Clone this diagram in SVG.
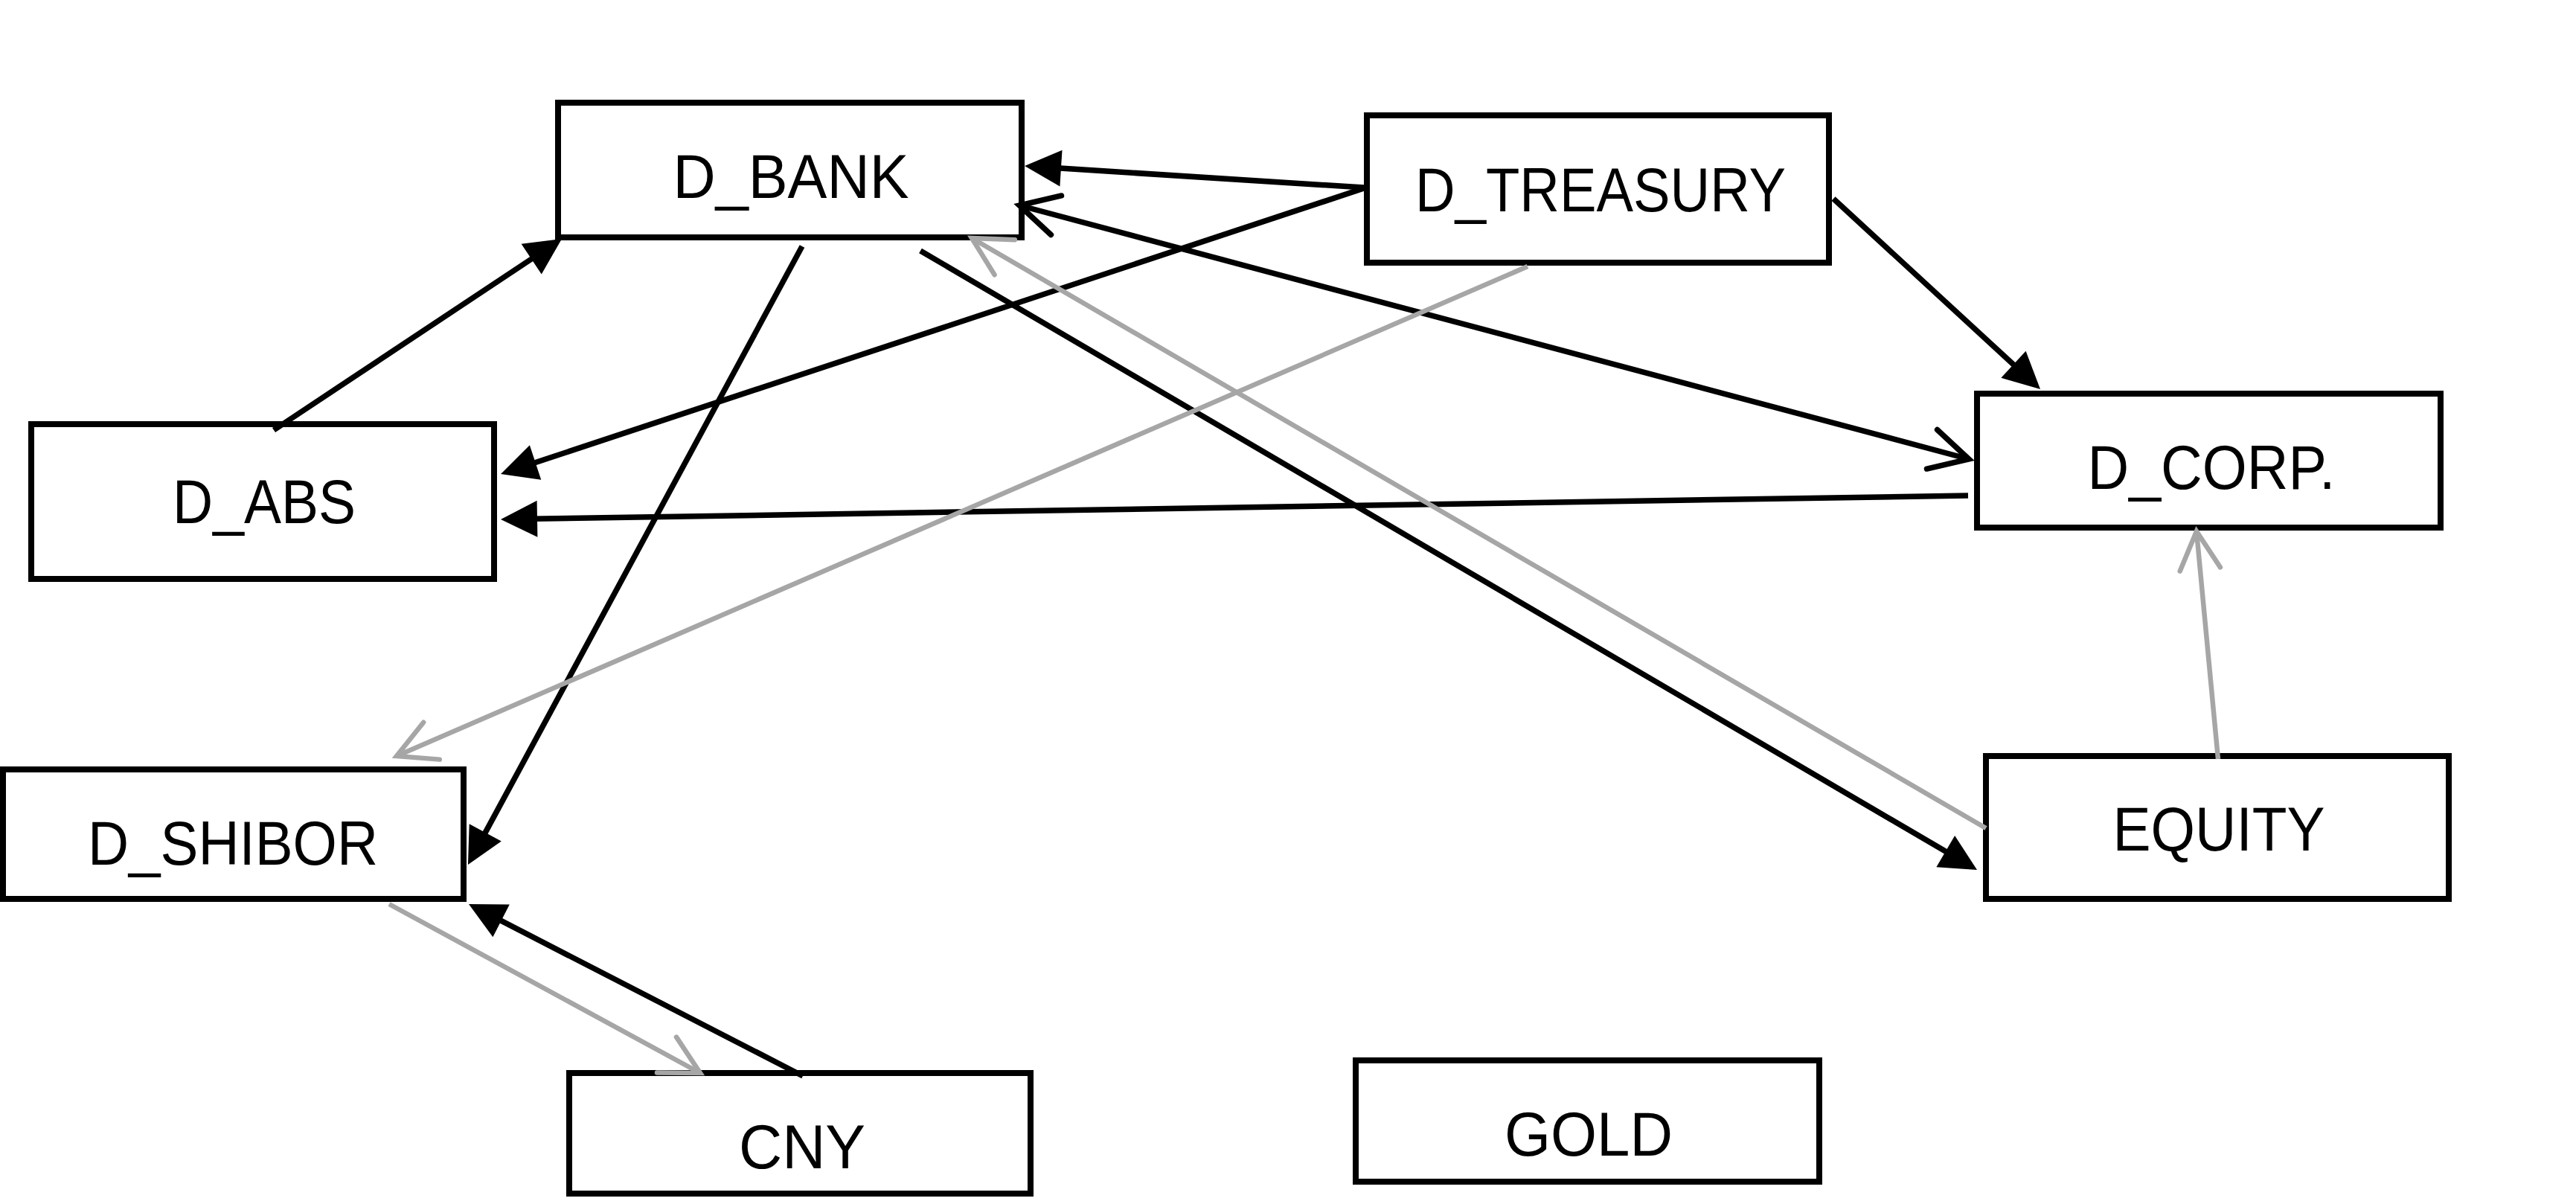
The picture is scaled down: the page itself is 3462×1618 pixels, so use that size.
<svg xmlns="http://www.w3.org/2000/svg" width="3462" height="1618" viewBox="0 0 3462 1618">
<style>
.box{fill:#ffffff;stroke:#000000;stroke-width:8}
.lbl{font-family:"Liberation Sans",Arial,sans-serif;font-size:84px;fill:#000000;text-anchor:middle}
.blk{stroke:#000000;stroke-width:7.5;fill:none}
.gry{stroke:#a6a6a6;stroke-width:6.5;fill:none}
</style>
<defs>
<marker id="fill" markerUnits="userSpaceOnUse" viewBox="0 0 49 49" markerWidth="49" markerHeight="49" refX="24.5" refY="24.5" orient="auto" overflow="visible">
<path d="M0,0 L49,24.5 L0,49 Z" fill="#000000"/>
</marker>
<marker id="openB" markerUnits="userSpaceOnUse" viewBox="-70 -40 80 80" markerWidth="80" markerHeight="80" refX="0" refY="0" orient="auto-start-reverse" overflow="visible">
<path d="M-51.2,-27.2 L0,0 L-51.2,27.2" fill="none" stroke="#000000" stroke-width="7.5" stroke-linecap="round" stroke-linejoin="miter"/>
</marker>
<marker id="openG" markerUnits="userSpaceOnUse" viewBox="-70 -40 80 80" markerWidth="80" markerHeight="80" refX="0" refY="0" orient="auto" overflow="visible">
<path d="M-51.2,-27.2 L0,0 L-51.2,27.2" fill="none" stroke="#a6a6a6" stroke-width="6.5" stroke-linecap="round" stroke-linejoin="miter"/>
</marker>
</defs>
<rect width="3462" height="1618" fill="#ffffff"/>
<g id="node-D_BANK"><rect class="box" x="750" y="138" width="623" height="181"/><text class="lbl" x="1063" y="266" textLength="317" lengthAdjust="spacingAndGlyphs">D_BANK</text></g>
<g id="node-D_TREASURY"><rect class="box" x="1837" y="155" width="621" height="198"/><text class="lbl" x="2151" y="284" textLength="498" lengthAdjust="spacingAndGlyphs">D_TREASURY</text></g>
<g id="node-D_ABS"><rect class="box" x="42" y="570" width="622" height="208"/><text class="lbl" x="355" y="703" textLength="246" lengthAdjust="spacingAndGlyphs">D_ABS</text></g>
<g id="node-D_CORP"><rect class="box" x="2657" y="529" width="623" height="180"/><text class="lbl" x="2972" y="657" textLength="333" lengthAdjust="spacingAndGlyphs">D_CORP.</text></g>
<g id="node-D_SHIBOR"><rect class="box" x="4" y="1034" width="619" height="174"/><text class="lbl" x="313" y="1162" textLength="390" lengthAdjust="spacingAndGlyphs">D_SHIBOR</text></g>
<g id="node-CNY"><rect class="box" x="765" y="1442" width="620" height="162"/><text class="lbl" x="1078" y="1570" textLength="170" lengthAdjust="spacingAndGlyphs">CNY</text></g>
<g id="node-GOLD"><rect class="box" x="1822" y="1425" width="623" height="163"/><text class="lbl" x="2135" y="1553" textLength="226" lengthAdjust="spacingAndGlyphs">GOLD</text></g>
<g id="node-EQUITY"><rect class="box" x="2669" y="1016" width="622" height="192"/><text class="lbl" x="2982" y="1143" textLength="285" lengthAdjust="spacingAndGlyphs">EQUITY</text></g>
<g id="connectors">
<line class="blk" x1="368" y1="578" x2="734.6" y2="334.5" marker-end="url(#fill)"/>
<line class="blk" x1="1833" y1="252" x2="1401.5" y2="224.6" marker-end="url(#fill)"/>
<line class="blk" x1="1833" y1="253" x2="696.3" y2="629.3" marker-end="url(#fill)"/>
<line class="blk" x1="2464" y1="267" x2="2724" y2="506.4" marker-end="url(#fill)"/>
<line class="blk" x1="1370" y1="276" x2="2646" y2="617" marker-start="url(#openB)" marker-end="url(#openB)"/>
<line class="blk" x1="2645" y1="666" x2="697.5" y2="697.6" marker-end="url(#fill)"/>
<line class="blk" x1="1078" y1="331" x2="640.6" y2="1140.4" marker-end="url(#fill)"/>
<line class="blk" x1="1237" y1="337" x2="2635.9" y2="1156.6" marker-end="url(#fill)"/>
<line class="blk" x1="1079" y1="1446" x2="651.8" y2="1226.2" marker-end="url(#fill)"/>
<line class="gry" x1="2669" y1="1113" x2="1306" y2="320" marker-end="url(#openG)"/>
<line class="gry" x1="2053" y1="358" x2="533" y2="1016" marker-end="url(#openG)"/>
<line class="gry" x1="2981" y1="1020" x2="2952" y2="714" marker-end="url(#openG)"/>
<line class="gry" x1="523" y1="1215" x2="941" y2="1442" marker-end="url(#openG)"/>
</g>
</svg>
